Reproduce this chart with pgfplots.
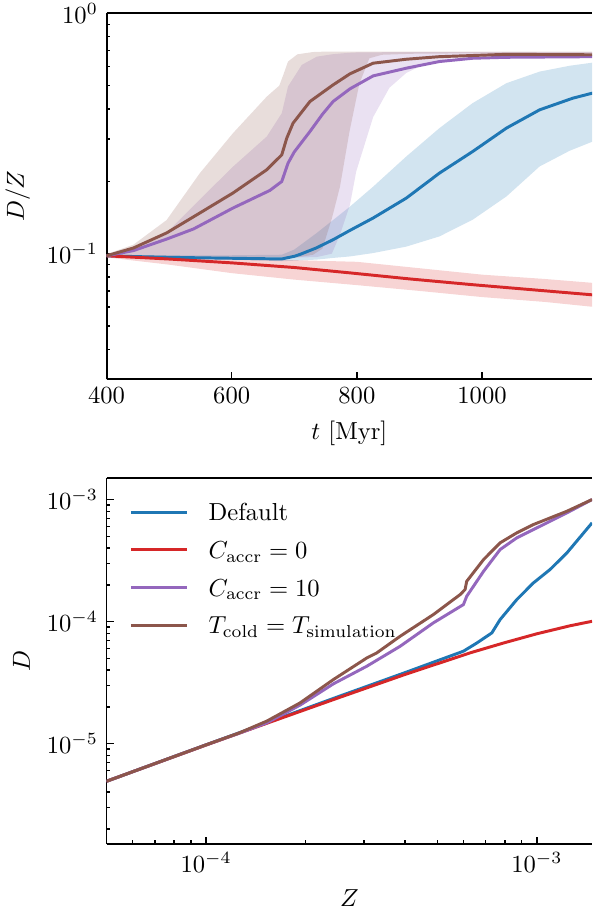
\documentclass[border=0pt]{standalone}
\usepackage{pgfplots}
\usepgfplotslibrary{fillbetween}
\pgfplotsset{compat=1.18}

\definecolor{tabblue}{RGB}{31,119,180}
\definecolor{tabred}{RGB}{214,39,40}
\definecolor{tabpurple}{RGB}{148,103,189}
\definecolor{tabbrown}{RGB}{140,86,75}

\pgfplotsset{
  panel/.style={
    scale only axis, width=197.4pt, height=148.8pt,
    axis x line*=box, axis y line*=left,
    xtick pos=left, ytick pos=left,
    tick align=inside,
    major tick length=2.9pt, minor tick length=1.6pt,
    every tick/.style={black, line width=0.6pt},
    axis line style={line width=0.8pt},
    /pgf/number format/1000 sep={},
  },
  line/.style={line width=1.2pt},
}

% top panel: D/Z against t, median and band
\pgfplotstableread{
t     v
400   0.0980
450   0.0972
500   0.0966
550   0.0961
600   0.0957
650   0.0953
680   0.0951
700   0.0975
710   0.0995
735   0.1056
762   0.1143
789   0.1250
826   0.1407
879   0.1703
932   0.2164
985   0.2660
1039  0.3330
1092  0.3966
1145  0.4434
1180  0.4680
}\bluet
\pgfplotstableread{
t     lo      hi
400   0.0970  0.0985
500   0.0955  0.0985
600   0.0945  0.0985
680   0.0930  0.0990
700   0.0935  0.1040
736   0.0945  0.1220
762   0.0960  0.1380
789   0.0974  0.1570
826   0.1006  0.1900
879   0.1070  0.2537
932   0.1180  0.3330
985   0.1384  0.4230
1039  0.1730  0.5120
1092  0.2306  0.5720
1140  0.2680  0.6050
1180  0.2950  0.6250
}\blueb
\pgfplotstableread{
t     v
400   0.0980
500   0.0950
602   0.0915
700   0.0876
789   0.0832
885   0.0785
985   0.0743
1080  0.0708
1180  0.0673
}\redt
\pgfplotstableread{
t     lo      hi
400   0.0965  0.0995
500   0.0900  0.0975
600   0.0830  0.0955
700   0.0780  0.0940
800   0.0740  0.0925
900   0.0700  0.0870
1000  0.0660  0.0818
1100  0.0630  0.0785
1180  0.0600  0.0755
}\redb
\pgfplotstableread{
t     v
400   0.0980
443   0.1030
496   0.1150
539   0.1267
602   0.1548
661   0.1833
680   0.1997
690   0.2380
700   0.2650
725   0.3222
745   0.3800
762   0.4295
789   0.4850
826   0.5490
879   0.5910
932   0.6300
985   0.6500
1039  0.6560
1180  0.6600
}\purplet
\pgfplotstableread{
t     lo      hi
400   0.0970  0.0990
443   0.0970  0.1030
496   0.0965  0.1220
549   0.0965  0.1680
602   0.0965  0.2300
656   0.0965  0.3070
680   0.0965  0.3840
690   0.0965  0.4960
712   0.0965  0.6100
736   0.0968  0.6600
760   0.1000  0.6750
773   0.1200  0.6800
789   0.1600  0.6850
799   0.2200  0.6870
826   0.3700  0.6880
852   0.4900  0.6890
879   0.5650  0.6900
906   0.6100  0.6900
950   0.6500  0.6900
1000  0.6650  0.6900
1180  0.6750  0.6900
}\purpleb
\pgfplotstableread{
t     v
400   0.0980
443   0.1056
496   0.1220
549   0.1476
602   0.1788
656   0.2234
680   0.2577
688   0.3026
698   0.3490
725   0.4295
762   0.5036
789   0.5600
826   0.6200
879   0.6440
932   0.6600
1039  0.6750
1180  0.6720
}\brownt
\pgfplotstableread{
t     lo      hi
400   0.0970  0.0995
443   0.0970  0.1090
496   0.0965  0.1380
549   0.0965  0.2160
602   0.0965  0.3170
656   0.0965  0.4500
676   0.0965  0.5000
682   0.0965  0.5500
690   0.0965  0.6300
705   0.0965  0.6750
730   0.0990  0.6900
745   0.1050  0.6920
760   0.1400  0.6920
773   0.1900  0.6930
788   0.3200  0.6930
804   0.5100  0.6930
820   0.6500  0.6930
840   0.6720  0.6930
900   0.6800  0.6930
1180  0.6820  0.6930
}\brownb

% bottom panel: D against Z
\pgfplotstableread{
Z         D
5.00e-5   4.91e-6
1.00e-4   9.77e-6
1.585e-4  1.538e-5
2.512e-4  2.427e-5
3.981e-4  3.802e-5
5.998e-4  5.715e-5
6.592e-4  6.683e-5
7.311e-4  8.072e-5
7.745e-4  1.038e-4
8.698e-4  1.514e-4
9.766e-4  2.075e-4
1.096e-3  2.667e-4
1.233e-3  3.656e-4
1.469e-3  6.442e-4
}\blueD
\pgfplotstableread{
Z         D
5.00e-5   4.91e-6
1.00e-4   9.73e-6
1.585e-4  1.521e-5
2.512e-4  2.371e-5
3.981e-4  3.673e-5
6.310e-4  5.559e-5
7.943e-4  6.680e-5
1.000e-3  7.940e-5
1.259e-3  9.230e-5
1.469e-3  1.005e-4
}\redD
\pgfplotstableread{
Z         D
5.00e-5   4.91e-6
1.00e-4   9.77e-6
1.259e-4  1.216e-5
1.526e-4  1.479e-5
1.923e-4  2.065e-5
2.427e-4  3.090e-5
3.062e-4  4.305e-5
3.864e-4  6.281e-5
4.864e-4  9.750e-5
5.998e-4  1.377e-4
6.138e-4  1.611e-4
6.902e-4  2.582e-4
7.745e-4  3.890e-4
8.698e-4  4.853e-4
9.766e-4  5.675e-4
1.233e-3  7.780e-4
1.469e-3  1.000e-3
}\purpleD
\pgfplotstableread{
Z         D
5.00e-5   4.91e-6
1.00e-4   9.77e-6
1.259e-4  1.222e-5
1.526e-4  1.528e-5
1.923e-4  2.153e-5
2.427e-4  3.350e-5
3.062e-4  5.035e-5
3.281e-4  5.534e-5
3.864e-4  7.586e-5
4.864e-4  1.140e-4
5.861e-4  1.663e-4
6.067e-4  1.828e-4
6.138e-4  2.138e-4
6.902e-4  3.221e-4
7.745e-4  4.416e-4
8.698e-4  5.333e-4
9.766e-4  6.237e-4
1.233e-3  8.017e-4
1.469e-3  1.000e-3
}\brownD

\begin{document}
\begin{tikzpicture}
\begin{axis}[panel, name=top, at={(0,0)}, anchor=north west,
    ymode=log, xmin=400, xmax=1176, ymin=0.03, ymax=1,
    xtick={400,600,800,1000},
    xlabel={$t$ [Myr]}, ylabel={$D/Z$}]
  \addplot[name path=bh, draw=none] table[x=t, y=hi] {\blueb};
  \addplot[name path=bl, draw=none] table[x=t, y=lo] {\blueb};
  \addplot[tabblue, fill opacity=0.2] fill between[of=bh and bl];
  \addplot[name path=rh, draw=none] table[x=t, y=hi] {\redb};
  \addplot[name path=rl, draw=none] table[x=t, y=lo] {\redb};
  \addplot[tabred, fill opacity=0.2] fill between[of=rh and rl];
  \addplot[name path=ph, draw=none] table[x=t, y=hi] {\purpleb};
  \addplot[name path=pl, draw=none] table[x=t, y=lo] {\purpleb};
  \addplot[tabpurple, fill opacity=0.2] fill between[of=ph and pl];
  \addplot[name path=nh, draw=none] table[x=t, y=hi] {\brownb};
  \addplot[name path=nl, draw=none] table[x=t, y=lo] {\brownb};
  \addplot[tabbrown, fill opacity=0.2] fill between[of=nh and nl];
  \addplot[line, tabblue] table[x=t, y=v] {\bluet};
  \addplot[line, tabred] table[x=t, y=v] {\redt};
  \addplot[line, tabpurple] table[x=t, y=v] {\purplet};
  \addplot[line, tabbrown] table[x=t, y=v] {\brownt};
\end{axis}

\begin{axis}[panel, name=bot, at={(0,-188.9pt)}, anchor=north west,
    xmode=log, ymode=log, xmin=5e-5, xmax=1.47e-3, ymin=1.5e-6, ymax=1.5e-3,
    xlabel={$Z$}, ylabel={$D$},
    legend cell align=left,
    legend image code/.code={\path[draw=none, fill=none] (0pt,-4pt) rectangle (23pt,4pt); \draw[#1] (0pt,0pt) -- (23pt,0pt);},
    legend style={draw=none, fill=none, at={(axis description cs:0,1)}, anchor=north west,
      xshift=9.1pt, yshift=-8.2pt, inner sep=0pt, row sep=4.3pt, column sep=8pt,
      nodes={inner sep=0pt, text height=9pt, text depth=2pt}}]
  \addplot[line, tabblue] table[x=Z, y=D] {\blueD};
  \addlegendentry{Default}
  \addplot[line, tabred] table[x=Z, y=D] {\redD};
  \addlegendentry{$C_\mathrm{accr} = 0$}
  \addplot[line, tabpurple] table[x=Z, y=D] {\purpleD};
  \addlegendentry{$C_\mathrm{accr} = 10$}
  \addplot[line, tabbrown] table[x=Z, y=D] {\brownD};
  \addlegendentry{$T_\mathrm{cold} = T_\mathrm{simulation}$}
\end{axis}

\pgfresetboundingbox
\path (-43.3pt,5.4pt) rectangle (197.4pt,-365.7pt);
\end{tikzpicture}
\end{document}
